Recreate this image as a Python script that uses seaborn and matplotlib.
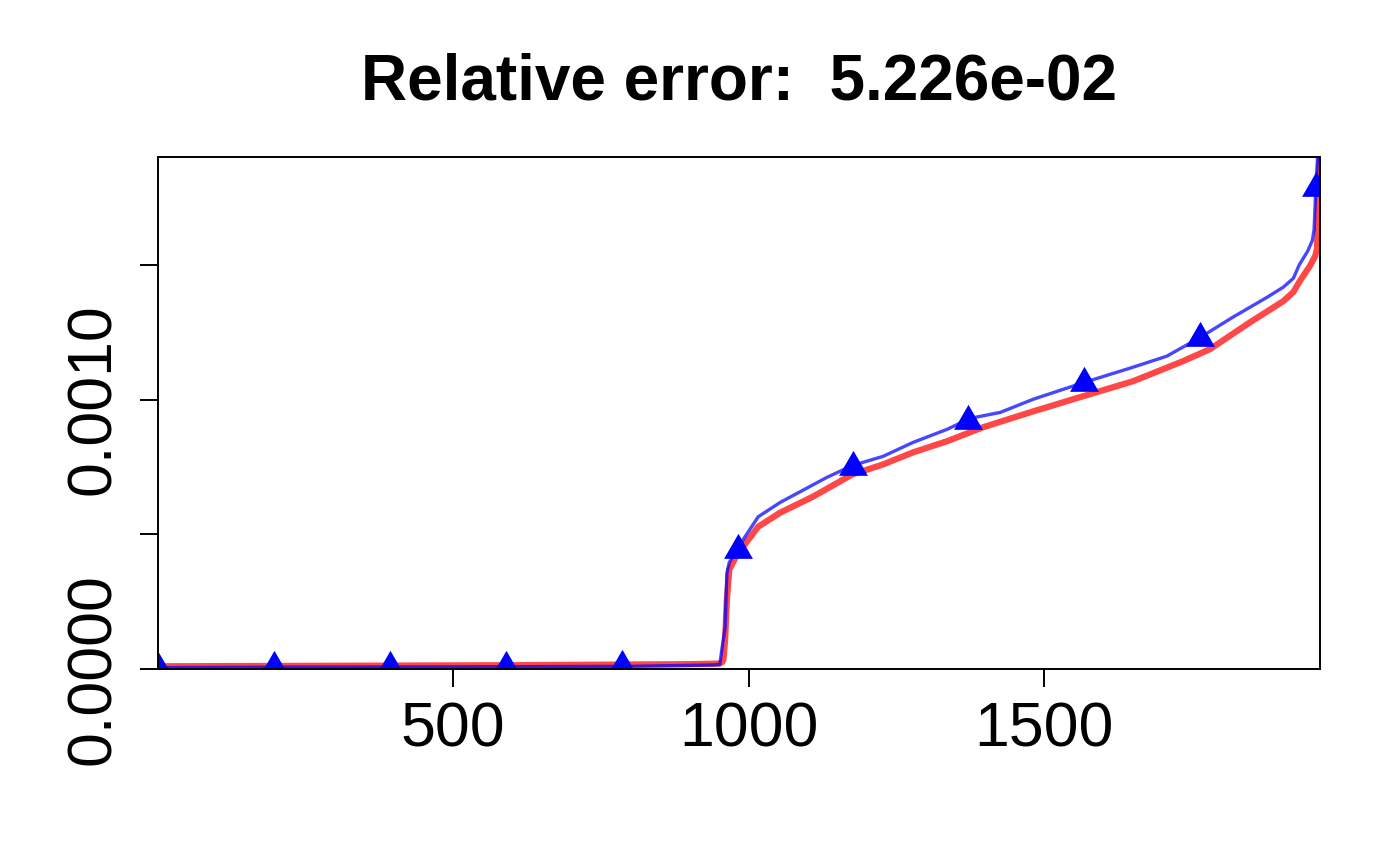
import matplotlib
matplotlib.use("Agg")
import matplotlib.pyplot as plt
import seaborn as sns

# sorted values
blue_x = [1, 200, 500, 800, 940, 951, 955, 960, 963, 967, 980, 1016, 1053, 1087,
          1132, 1175, 1227, 1278, 1335, 1374, 1425, 1481, 1565, 1650, 1707, 1763,
          1819, 1877, 1904, 1921, 1931, 1945, 1953, 1956, 1959, 1962]
blue_y = [0.05e-4, 0.07e-4, 0.08e-4, 0.10e-4, 0.15e-4, 0.17e-4, 0.8e-4, 1.55e-4,
          3.55e-4, 3.95e-4, 4.45e-4, 5.65e-4, 6.18e-4, 6.58e-4, 7.11e-4, 7.55e-4,
          7.89e-4, 8.41e-4, 8.89e-4, 9.30e-4, 9.52e-4, 10.01e-4, 10.62e-4, 11.2e-4,
          11.61e-4, 12.3e-4, 13.06e-4, 13.8e-4, 14.17e-4, 14.5e-4, 15.0e-4,
          15.5e-4, 15.9e-4, 16.3e-4, 17.9e-4, 19.0e-4]

red_x = [1, 300, 600, 900, 950, 955, 957, 960, 963, 967, 980, 1016, 1053, 1109,
         1175, 1227, 1278, 1335, 1396, 1481, 1565, 1650, 1734, 1780, 1848, 1904,
         1921, 1932, 1949, 1958, 1961, 1963, 1966]
red_y = [0.10e-4, 0.12e-4, 0.14e-4, 0.18e-4, 0.20e-4, 0.25e-4, 0.33e-4, 1.08e-4,
         2.57e-4, 3.68e-4, 4.24e-4, 5.28e-4, 5.80e-4, 6.40e-4, 7.22e-4, 7.59e-4,
         8.04e-4, 8.45e-4, 8.97e-4, 9.56e-4, 10.12e-4, 10.68e-4, 11.42e-4,
         11.87e-4, 12.87e-4, 13.65e-4, 13.99e-4, 14.4e-4, 14.96e-4, 15.33e-4,
         15.6e-4, 17.7e-4, 19.0e-4]

# triangles every ~196 points on the blue curve
marker_x = [1, 197, 393, 589, 785, 982, 1176, 1371, 1567, 1763, 1959]
marker_y = [0.05e-4, 0.07e-4, 0.08e-4, 0.09e-4, 0.10e-4, 4.4e-4, 7.51e-4,
            9.22e-4, 10.6e-4, 12.28e-4, 17.86e-4]

x_ticks = [500, 1000, 1500]
y_ticks = [0.0, 0.0005, 0.0010, 0.0015]
y_tick_labels = ["0.0000", "", "0.0010", ""]
title = "Relative error:  5.226e-02"

sns.set_style("ticks")
plt.rcParams["font.family"] = ["Liberation Sans", "DejaVu Sans"]

fig = plt.figure(figsize=(14, 8.65), dpi=100)
ax = fig.add_axes([158 / 1400, 1 - 669 / 865, 1162 / 1400, 512 / 865])

sns.lineplot(x=red_x, y=red_y, ax=ax, color="#ff0000", alpha=0.72,
             linewidth=4.5, estimator=None, sort=False)
sns.lineplot(x=blue_x, y=blue_y, ax=ax, color="#0000ff", alpha=0.72,
             linewidth=2.4, estimator=None, sort=False)

# R style filled triangle (pch 17), centred on its centroid
tri = [(0, 1.555), (1.347, -0.778), (-1.347, -0.778)]
ax.plot(marker_x, marker_y, linestyle="none", marker=tri, markersize=24,
        color="#0000ff", markeredgewidth=0)

ax.set_xlim(1, 1966)
ax.set_ylim(0, 0.0019)
ax.set_xticks(x_ticks)
ax.set_xticklabels([str(t) for t in x_ticks])
ax.set_yticks(y_ticks)
ax.set_yticklabels(y_tick_labels, rotation=90, va="center")
ax.tick_params(axis="both", labelsize=45, length=13, width=1.4, color="black",
               labelcolor="black")
ax.tick_params(axis="x", pad=10)
ax.tick_params(axis="y", pad=12)
for side in ["left", "right", "top", "bottom"]:
    ax.spines[side].set_visible(True)
    ax.spines[side].set_linewidth(1.4)
    ax.spines[side].set_color("black")
ax.grid(False)
ax.set_xlabel("")
ax.set_ylabel("")

fig.text((158 + 1320) / 2 / 1400, 1 - 99 / 865, title, ha="center",
         va="baseline", fontsize=46, fontweight="bold", color="black")

fig.savefig("out.png", dpi=100, facecolor="white")
